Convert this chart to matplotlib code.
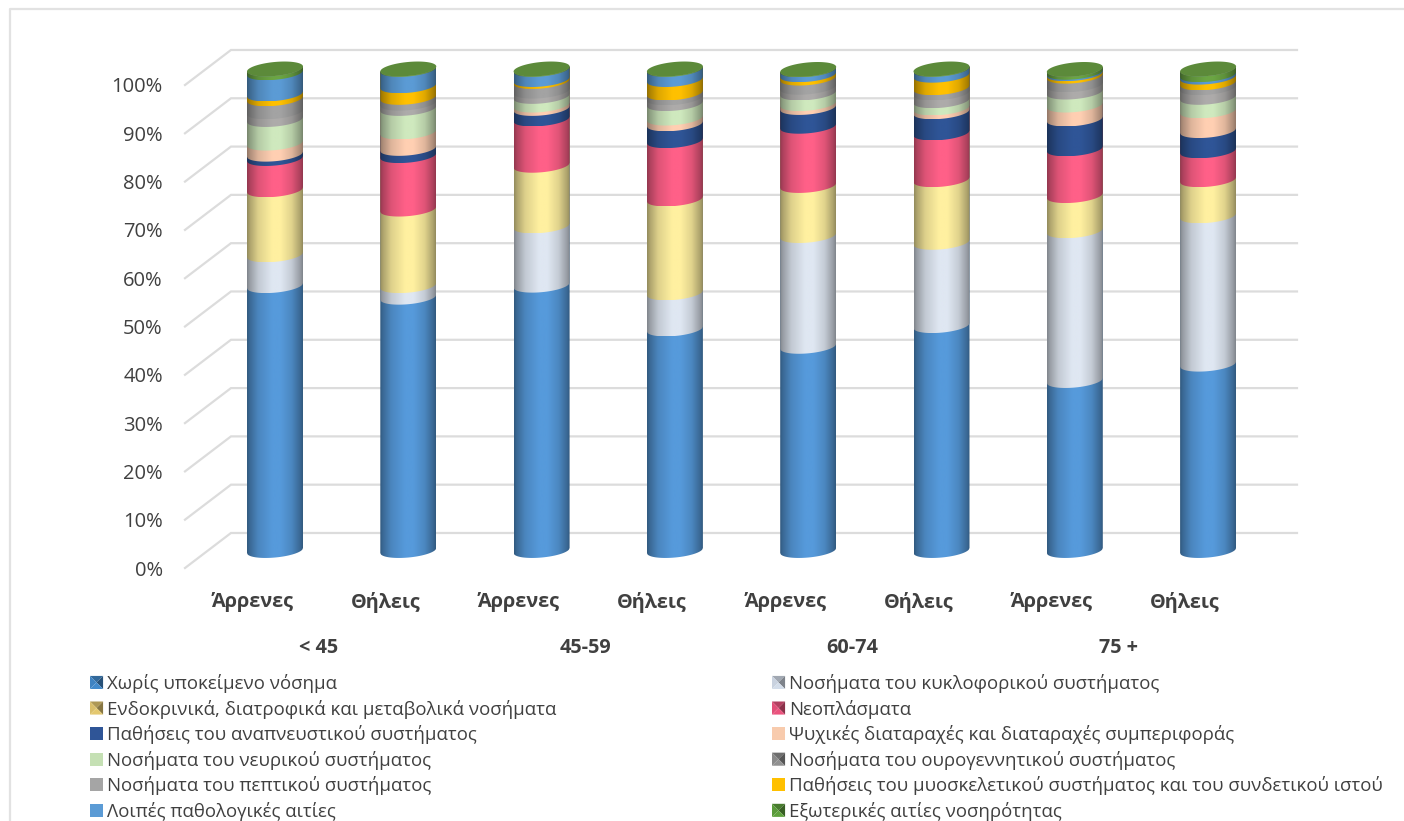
import numpy as np
import matplotlib
matplotlib.use('Agg')
import matplotlib.pyplot as plt
from matplotlib.colors import to_rgb
from matplotlib.legend_handler import HandlerBase
from matplotlib.lines import Line2D
from matplotlib.patches import Patch, Polygon

plt.rcParams['font.family'] = ['Open Sans', 'DejaVu Sans']

# -----------------------------------------------
# -                    DATA                     -
# -----------------------------------------------
sex_labels = ['Άρρενες', 'Θήλεις'] * 4
age_groups = ['< 45', '45-59', '60-74', '75 +']
pct_labels = ['0%', '10%', '20%', '30%', '40%', '50%', '60%', '70%', '80%', '90%', '100%']

no_disease = [55.0, 52.6, 55.1, 46.0, 42.4, 46.7, 35.3, 38.7]
circulatory = [6.4, 2.4, 12.3, 7.5, 23.0, 17.3, 31.1, 30.8]
endocrine = [13.5, 15.9, 12.6, 19.5, 10.4, 13.0, 7.3, 7.5]
neoplasms = [6.5, 11.1, 9.6, 12.1, 12.3, 9.7, 9.7, 6.0]
respiratory = [0.9, 1.5, 2.2, 3.5, 3.9, 4.4, 6.2, 4.2]
mental = [2.3, 3.4, 0.7, 1.2, 0.8, 0.8, 2.9, 4.1]
nervous = [4.9, 4.9, 1.8, 3.0, 2.2, 1.5, 2.7, 2.8]
genitourinary = [1.6, 1.1, 1.1, 1.2, 1.2, 1.6, 1.5, 2.0]
digestive = [2.7, 1.2, 2.0, 1.0, 1.9, 1.1, 1.8, 1.0]
musculoskeletal = [1.0, 2.4, 0.4, 2.8, 0.7, 2.6, 0.5, 1.2]
other_causes = [4.4, 3.4, 2.1, 2.1, 1.0, 1.2, 0.3, 0.5]
external = [0.8, 0.1, 0.1, 0.1, 0.1, 0.1, 0.6, 1.2]

series = [no_disease, circulatory, endocrine, neoplasms, respiratory, mental,
          nervous, genitourinary, digestive, musculoskeletal, other_causes, external]

series_names = [
    'Χωρίς υποκείμενο νόσημα',
    'Νοσήματα του κυκλοφορικού συστήματος',
    'Ενδοκρινικά, διατροφικά και μεταβολικά νοσήματα',
    'Νεοπλάσματα',
    'Παθήσεις του αναπνευστικού συστήματος',
    'Ψυχικές διαταραχές και διαταραχές συμπεριφοράς',
    'Νοσήματα του νευρικού συστήματος',
    'Νοσήματα του ουρογεννητικού συστήματος',
    'Νοσήματα του πεπτικού συστήματος',
    'Παθήσεις του μυοσκελετικού συστήματος και του συνδετικού ιστού',
    'Λοιπές παθολογικές αιτίες',
    'Εξωτερικές αιτίες νοσηρότητας',
]

bar_colors = ['#569ADB', '#DFE7F2', '#FFF0A0', '#FF6088', '#2F5597', '#FFCFB2',
              '#CFE9BE', '#ADABAA', '#A3A3A3', '#FFC000', '#5B9BD5', '#6BA543']
key_colors = ['#3F83C2', '#C9D2DF', '#D9BE6A', '#E04F78', '#2F5597', '#F8CBAD',
              '#C5E0B4', '#8A8A8A', '#A5A5A5', '#FFC000', '#5B9BD5', '#5A9A3A']
beveled = [0, 1, 2, 3, 7, 11]

# -----------------------------------------------
# -                  LAYOUT                     -
# -----------------------------------------------
W, H = 1404, 821
GRID = '#DCDCDC'
TEXT = '#404040'
depth_y = 7.25      # back wall offset in % units
depth_x = 0.345     # back wall offset in category units
half_w = 0.21
ell_b = 1.45
tilt = 0.52
base_y = 2.17
scale_y = 0.997
top_color = '#5C8A3A'

fig = plt.figure(figsize=(W / 100, H / 100), dpi=100)
ax = fig.add_axes([185 / W, 1 - 568 / H, (1297 - 185) / W, (568 - 85) / H])
ax.patch.set_alpha(0)
x = np.arange(len(sex_labels))
x_left = (185 - 275) / 133.3
x_right = (1297 - 275) / 133.3
ax.autoscale(False)
ax.set_xlim(x_left, x_right)
ax.set_ylim(0, 100)

# -----------------------------------------------
# -                  GRID WALL                  -
# -----------------------------------------------
for v in range(0, 101, 10):
    ax.plot([x_left, x_left + depth_x, x_right], [v, v + depth_y, v + depth_y],
            color=GRID, lw=1.6, clip_on=False, zorder=1, solid_joinstyle='miter')

# -----------------------------------------------
# -                 CYLINDERS                   -
# -----------------------------------------------
t = np.linspace(-1, 1, 80)
shade = np.interp(np.linspace(-1, 1, 128),
                  [-1, -0.9, -0.6, -0.1, 0.2, 0.6, 0.9, 1],
                  [0.58, 0.68, 0.87, 1.0, 1.0, 0.88, 0.68, 0.58])


def front_arc(c):
    return base_y + scale_y * c + ell_b + tilt * t - ell_b * np.sqrt(1 - t ** 2)


for i in x:
    total = sum(values[i] for values in series)
    cum = 0.0
    for values, color in zip(series, bar_colors):
        bottom, cum = cum, cum + values[i]
        xs = i + half_w * t
        # every band runs up to the bar top and the next one paints over it, no seams
        pts = np.vstack([np.column_stack([xs, front_arc(bottom)]),
                         np.column_stack([xs[::-1], front_arc(total)[::-1]])])
        clip = Polygon(pts, closed=True, transform=ax.transData)
        rgb = np.clip(np.outer(shade, to_rgb(color)), 0, 1)[np.newaxis, :, :]
        img = ax.imshow(rgb, extent=(i - half_w, i + half_w, pts[:, 1].min(), pts[:, 1].max()),
                        aspect='auto', interpolation='bilinear', zorder=3)
        # images get cut at the axes box otherwise, and the bars rise above 100 here
        img.set_clip_box(fig.bbox)
        img.set_clip_path(clip)

    # top cap
    s = np.linspace(0, 2 * np.pi, 120)
    cy = base_y + scale_y * total + ell_b
    ax.fill(i + half_w * np.cos(s), cy + tilt * np.cos(s) + ell_b * np.sin(s),
            color=top_color, zorder=4, clip_on=False, lw=0)

ax.set_xlim(x_left, x_right)
ax.set_ylim(0, 100)

# -----------------------------------------------
# -              AXES AND LABELS                -
# -----------------------------------------------
for side in ax.spines.values():
    side.set_visible(False)
ax.set_yticks(range(0, 101, 10), pct_labels, fontsize=14.5, color=TEXT)
ax.set_xticks(x - 0.172, sex_labels, fontsize=14.3, fontweight='bold', color=TEXT)
ax.tick_params(axis='both', length=0)
ax.tick_params(axis='y', pad=16)
ax.tick_params(axis='x', pad=17)
for k, group in enumerate(age_groups):
    ax.text(2 * k + 0.5 - 0.172, -16.5, group, ha='center', va='center',
            fontsize=14.3, fontweight='bold', color=TEXT)


# -----------------------------------------------
# -                   LEGENDS                   -
# -----------------------------------------------
class BevelHandler(HandlerBase):
    def create_artists(self, legend, orig_handle, xd, yd, width, height, fontsize, trans):
        rgb = np.array(to_rgb(orig_handle.get_facecolor()))
        x0, y0, x1, y1 = -xd, -yd, width - xd, height - yd
        mx, my = (x0 + x1) / 2, (y0 + y1) / 2
        faces = [([(x0, y1), (x1, y1), (mx, my)], 0.8),
                 ([(x0, y0), (x0, y1), (mx, my)], 1.0),
                 ([(x1, y0), (x1, y1), (mx, my)], 0.62),
                 ([(x0, y0), (x1, y0), (mx, my)], 1.05)]
        return [Polygon(pts, closed=True, transform=trans, lw=0,
                        facecolor=np.clip(rgb * k, 0, 1)) for pts, k in faces]


handles = [Patch(facecolor=c) for c in key_colors]
handler_map = {handles[k]: BevelHandler() for k in beveled}
for col, left in enumerate([90, 772]):
    fig.legend(handles[col::2], series_names[col::2], loc='upper left',
               bbox_to_anchor=(left / W, 1 - 674 / H), frameon=False,
               fontsize=13.45, labelcolor=TEXT, handlelength=0.7, handleheight=0.7,
               handletextpad=0.2, borderpad=0, borderaxespad=0, labelspacing=0.352,
               handler_map=handler_map)

# outer chart border, runs off the image on the right and at the bottom
fig.add_artist(Line2D([9.5 / W, 9.5 / W, 1], [0, 1 - 9.5 / H, 1 - 9.5 / H],
                      color='#E2E2E2', lw=1.6, transform=fig.transFigure))

fig.savefig('out.png', dpi=100)
